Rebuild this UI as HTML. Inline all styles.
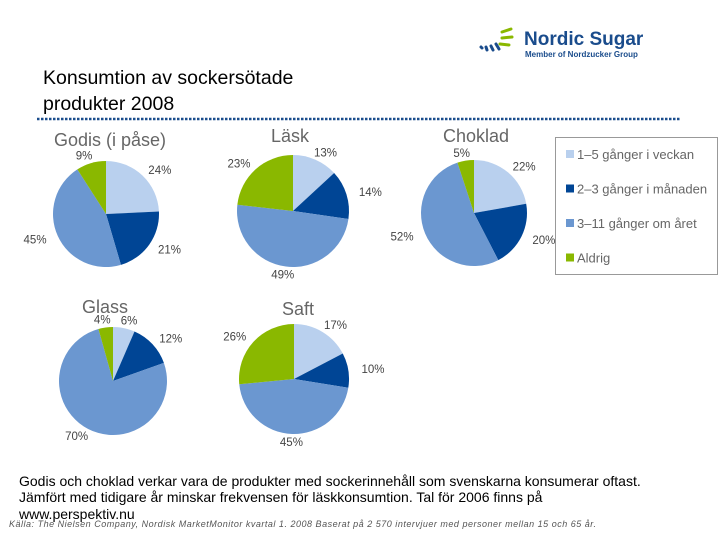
<!DOCTYPE html>
<html><head><meta charset="utf-8"><style>
html,body{margin:0;padding:0;background:#fff;}
svg{display:block;font-family:"Liberation Sans",sans-serif;}
</style></head><body>
<svg id="chart" width="720" height="540" viewBox="0 0 720 540">
  <g>
    <g stroke-linecap="round" stroke-width="3">
      <line x1="502" y1="32" x2="511" y2="29" stroke="#8ab800"/>
      <line x1="502" y1="38" x2="512" y2="37" stroke="#8ab800"/>
      <line x1="500" y1="44" x2="509" y2="45" stroke="#8ab800"/>
      <line x1="496" y1="44" x2="499" y2="49" stroke="#1a4c8c"/>
      <line x1="491" y1="46" x2="493" y2="50" stroke="#1a4c8c"/>
      <line x1="486" y1="47" x2="487" y2="50" stroke="#1a4c8c"/>
      <line x1="481" y1="47" x2="482" y2="48" stroke="#1a4c8c"/>
    </g>
    <text x="524" y="45" font-size="19" font-weight="bold" fill="#1a4c8c">Nordic Sugar</text>
    <text x="525" y="57" font-size="8" font-weight="bold" fill="#1a4c8c">Member of Nordzucker Group</text>
  </g>
  <text x="43" y="84" font-size="19.5" fill="#000">Konsumtion av sockersötade</text>
  <text x="43" y="110" font-size="19.5" fill="#000">produkter 2008</text>
  <line x1="37" y1="119" x2="680" y2="119" stroke="#1a4c8c" stroke-width="2.5" stroke-dasharray="2.5,1.5"/>
  <g id="pies"></g>
  <g>
    <rect x="555.5" y="137.5" width="162" height="137" fill="#fff" stroke="#999"/>
    <g id="legend-items"></g>
  </g>
  <text font-size="14" fill="#000">
    <tspan x="19" y="486">Godis och choklad verkar vara de produkter med sockerinnehåll som svenskarna konsumerar oftast.</tspan>
    <tspan x="19" y="502">Jämfört med tidigare år minskar frekvensen för läskkonsumtion. Tal för 2006 finns på</tspan>
    <tspan x="19" y="519">www.perspektiv.nu</tspan>
  </text>
  <text x="9" y="527" font-size="9" font-style="italic" fill="#555" textLength="587">Källa: The Nielsen Company, Nordisk MarketMonitor kvartal 1. 2008 Baserat på 2 570 intervjuer med personer mellan 15 och 65 år.</text>
</svg>
<script>
const categories = ["1–5 gånger i veckan", "2–3 gånger i månaden", "3–11 gånger om året", "Aldrig"];
const products = ["Godis (i påse)", "Läsk", "Choklad", "Glass", "Saft"];
const godisValues = [24, 21, 45, 9];
const laskValues = [13, 14, 49, 23];
const chokladValues = [22, 20, 52, 5];
const glassValues = [6, 12, 70, 4];
const saftValues = [17, 10, 45, 26];
const colors = ["#b9d0ee", "#004595", "#6b97d0", "#8ab800"];
const NS = "http://www.w3.org/2000/svg";
const layout = [
  {cx:106, cy:214, r:53, tx:110, ty:146},
  {cx:293, cy:211, r:56, tx:290, ty:142},
  {cx:474, cy:213, r:53, tx:476, ty:142},
  {cx:113, cy:381, r:54, tx:105, ty:313},
  {cx:294, cy:379, r:55, tx:298, ty:315}
];
const allValues = [godisValues, laskValues, chokladValues, glassValues, saftValues];
const pies = document.getElementById('pies');
function mk(tag, attrs){const e=document.createElementNS(NS,tag);for(const k in attrs)e.setAttribute(k,attrs[k]);return e;}
allValues.forEach((vals, pi) => {
  const L = layout[pi];
  const g = mk('g', {});
  
  
  const title = mk('text', {x:L.tx, y:L.ty, 'font-size':18, fill:'#666', 'text-anchor':'middle'});
  title.textContent = products[pi];
  
  
  g.appendChild(title);
  const total = vals.reduce((a,b)=>a+b,0);
  let acc = 0;
  vals.forEach((v, si) => {
    const a0 = acc/total*2*Math.PI, a1 = (acc+v)/total*2*Math.PI;
    acc += v;
    const x0 = L.cx + L.r*Math.sin(a0), y0 = L.cy - L.r*Math.cos(a0);
    const x1 = L.cx + L.r*Math.sin(a1), y1 = L.cy - L.r*Math.cos(a1);
    const large = (a1-a0) > Math.PI ? 1 : 0;
    const p = mk('path', {d:`M${L.cx},${L.cy} L${x0},${y0} A${L.r},${L.r} 0 ${large} 1 ${x1},${y1} Z`, fill:colors[si]});
    
    
    g.appendChild(p);
    const am = (a0+a1)/2;
    const lx = L.cx + (L.r+25)*Math.sin(am), ly = L.cy - (L.r+8)*Math.cos(am) + 4;
    const t = mk('text', {x:lx, y:ly, 'font-size':11.5, fill:'#444', 'text-anchor':'middle'});
    t.textContent = v + '%';
    
    
    g.appendChild(t);
  });
  pies.appendChild(g);
});
const li = document.getElementById('legend-items');
categories.forEach((c, i) => {
  const y = 155 + i*34.5;
  const r = mk('rect', {x:566, y:y-5, width:8, height:8, fill:colors[i]});
  
  
  li.appendChild(r);
  const t = mk('text', {x:577, y:y+4, 'font-size':13, fill:'#666'});
  t.textContent = c;
  
  
  li.appendChild(t);
});
</script>
</body></html>
